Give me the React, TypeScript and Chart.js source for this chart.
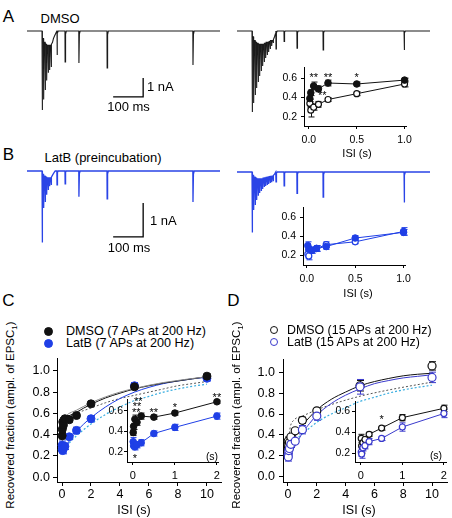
import React, { useEffect, useRef } from 'react';
import { Chart, registerables } from 'chart.js';
Chart.register(...registerables);

const FONT = '"Liberation Sans", Arial, Helvetica, sans-serif';
Chart.defaults.font.family = FONT;
Chart.defaults.color = '#000';

// ---------- colours ----------
const BLACK = '#111111';
const GRAY_FIT = '#8a8a8a';
const BLUE_C = '#1f3fe6';
const BLUE_D = '#3a3acc';
const BLUE_TRACE = '#2a44e6';
const CYAN = '#3aaee0';
const DOT_GRAY = '#555555';

// ---------- recovery data (ISI in s, recovered fraction) ----------
const ISI = [0.01, 0.02, 0.05, 0.1, 0.2, 0.5, 1, 2, 5, 10];
const DMSO_7AP = [0.39, 0.45, 0.52, 0.49, 0.55, 0.54, 0.58, 0.69, 0.85, 0.95];
const DMSO_7AP_ERR = [0.03, 0.03, 0.04, 0.03, 0.03, 0.02, 0.02, 0.015, 0.025, 0.02];
const LATB_7AP = [0.3, 0.26, 0.25, 0.27, 0.29, 0.38, 0.44, 0.55, 0.86, 0.93];
const LATB_7AP_ERR = [0.04, 0.03, 0.03, 0.03, 0.03, 0.025, 0.03, 0.03, 0.03, 0.025];
const DMSO_15AP = [0.34, 0.27, 0.3, 0.33, 0.38, 0.44, 0.54, 0.63, 0.87, 1.06];
const DMSO_15AP_ERR = [0.04, 0.07, 0.03, 0.03, 0.02, 0.02, 0.03, 0.03, 0.05, 0.04];
const LATB_15AP = [0.21, 0.19, 0.25, 0.27, 0.31, 0.34, 0.45, 0.58, 0.86, 0.95];
const LATB_15AP_ERR = [0.04, 0.04, 0.03, 0.03, 0.03, 0.02, 0.04, 0.04, 0.07, 0.05];

// ---------- fitted curves: [ISI (s), fraction] ----------
const FIT_C_DMSO = [[0, 0.5], [0.1, 0.54], [0.3, 0.565], [0.6, 0.585], [1, 0.61], [1.5, 0.65], [2, 0.685], [3, 0.745], [4, 0.79], [5, 0.83], [6, 0.86], [7, 0.885], [8, 0.905], [9, 0.925], [10, 0.945]];
const FIT_C_GRAY = [[0, 0.52], [0.3, 0.58], [1, 0.63], [2, 0.7], [3, 0.755], [4, 0.8], [5, 0.835], [7, 0.89], [10, 0.945]];
const FIT_C_LATB = [[0, 0.24], [0.3, 0.3], [0.6, 0.36], [1, 0.43], [1.5, 0.5], [2, 0.56], [3, 0.66], [4, 0.74], [5, 0.8], [6, 0.845], [7, 0.88], [8, 0.905], [9, 0.925], [10, 0.94]];
const FIT_C_GRAYDOT = [[0, 0.33], [0.2, 0.47], [0.5, 0.56], [1, 0.6], [2, 0.65], [3, 0.7], [4, 0.74], [5, 0.77], [6, 0.8], [7, 0.83], [8, 0.86], [9, 0.88], [10, 0.9]];
const FIT_C_CYANDOT = [[0, 0.23], [0.5, 0.32], [1, 0.39], [2, 0.5], [3, 0.59], [4, 0.66], [5, 0.72], [6, 0.76], [7, 0.8], [8, 0.83], [9, 0.855], [10, 0.875]];
const FIT_D_DMSO = [[0, 0.27], [0.3, 0.34], [0.6, 0.41], [1, 0.49], [1.5, 0.57], [2, 0.64], [3, 0.74], [4, 0.81], [5, 0.87], [6, 0.91], [7, 0.94], [8, 0.965], [9, 0.98], [10, 0.99]];
const FIT_D_LATB = [[0, 0.17], [0.3, 0.25], [0.6, 0.32], [1, 0.42], [1.5, 0.51], [2, 0.59], [3, 0.7], [4, 0.78], [5, 0.84], [6, 0.89], [7, 0.92], [8, 0.945], [9, 0.96], [10, 0.975]];
const FIT_D_GRAYDOT = [[0, 0.3], [0.15, 0.47], [0.4, 0.54], [1, 0.58], [2, 0.64], [3, 0.69], [5, 0.77], [7, 0.83], [10, 0.905]];
const FIT_D_CYANDOT = [[0.3, 0.33], [1, 0.41], [2, 0.52], [3, 0.6], [4, 0.66], [5, 0.72], [6, 0.76], [7, 0.8], [8, 0.83], [9, 0.855], [10, 0.875]];

// ---------- significance marks ----------
const STARS_A = [{ x: 0.05, y: 0.64, t: '**' }, { x: 0.2, y: 0.64, t: '**' }, { x: 0.5, y: 0.635, t: '*' }, { x: 0.14, y: 0.45, t: '**' }];
const STARS_C = [{ x: 0.13, y: 0.72, t: '**' }, { x: 0.1, y: 0.67, t: '**' }, { x: 0.08, y: 0.615, t: '**' }, { x: 0.5, y: 0.61, t: '**' }, { x: 1, y: 0.66, t: '*' }, { x: 2, y: 0.755, t: '**' }, { x: 0.05, y: 0.16, t: '*' }];
const STARS_D = [{ x: 0.5, y: 0.545, t: '*' }];

// ---------- EPSC traces (time ms, current nA) ----------
const TRACE_END_MS = 643;
const AP_INTERVAL_MS = 5;
const TRAIN_START_MS = 50;
const TEST_T_7AP = [100, 127, 173, 267, 553];
const TEST_T_15AP = [130, 157, 200, 287, 557];

const A7_TRAIN = [4.16, 3.6, 3.1, 2.6, 2.2, 2.05, 1.9];
const A7_RESID = [0, -0.4, -0.6, -0.7, -0.75, -0.75, -0.75, -0.7];
const A7_TAIL = [[3, -0.6], [6, -0.4], [10, -0.25], [14, -0.12], [18, 0]];
const A7_TEST = [1.26, 1.63, 1.68, 1.95, 1.79];

const A15_TRAIN = [4.26, 3.79, 3.37, 3.0, 2.68, 2.37, 2.1, 1.84, 1.63, 1.42, 1.26, 1.1, 0.95, 0.79, 0.63];
const A15_RESID = [0, -0.3, -0.5, -0.6, -0.65, -0.7, -0.7, -0.7, -0.7, -0.65, -0.6, -0.6, -0.55, -0.5, -0.5, -0.45];
const A15_TAIL = [[3, -0.3], [6, -0.15], [9, 0]];
const A15_TEST = [0.95, 0.55, 0.9, 1.0, 1.0];

const B7_TRAIN = [2.1, 1.09, 0.91, 0.7, 0.56, 0.45, 0.41];
const B7_RESID = [0, -0.1, -0.15, -0.18, -0.2, -0.2, -0.2, -0.18];
const B7_TAIL = [[3, -0.12], [8, -0.05], [12, 0]];
const B7_TEST = [0.41, 0.38, 0.76, 0.82, 0.91];

const B15_TRAIN = [1.78, 1.12, 0.97, 0.82, 0.7, 0.62, 0.56, 0.5, 0.44, 0.41, 0.38, 0.35, 0.32, 0.3, 0.27];
const B15_RESID = [0, -0.1, -0.15, -0.18, -0.2, -0.2, -0.2, -0.2, -0.18, -0.17, -0.16, -0.15, -0.14, -0.13, -0.12, -0.1];
const B15_TAIL = [[3, -0.06], [7, 0]];
const B15_TEST = [0.29, 0.41, 0.63, 0.74, 0.9];

// scale bars: 100 ms, 1 nA
const BAR_MS = 100;
const BAR_NA = 1;

// ---------- helpers ----------
type Pt = { x: number; y: number };
const toPts = (xs: number[], ys: number[], n: number): Pt[] => xs.slice(0, n).map((x, i) => ({ x, y: ys[i] }));
const pairPts = (arr: number[][]): Pt[] => arr.map(([x, y]) => ({ x, y }));

function buildTrace(amps: number[], resid: number[], tail: number[][], testT: number[], testA: number[]): Pt[] {
  const pts: Pt[] = [{ x: 0, y: 0 }, { x: TRAIN_START_MS - 1, y: 0 }];
  amps.forEach((a, i) => {
    const t = TRAIN_START_MS + i * AP_INTERVAL_MS;
    pts.push({ x: t, y: resid[i] });
    pts.push({ x: t + 0.5, y: -a });
    pts.push({ x: t + 2, y: resid[i + 1] });
  });
  const tEnd = TRAIN_START_MS + (amps.length - 1) * AP_INTERVAL_MS + 2;
  tail.forEach(([dt, v]) => pts.push({ x: tEnd + dt, y: v }));
  testT.forEach((t, i) => {
    pts.push({ x: t - 0.5, y: 0 });
    pts.push({ x: t, y: -testA[i] });
    pts.push({ x: t + 1.5, y: -testA[i] * 0.1 });
    pts.push({ x: t + 4, y: 0 });
  });
  pts.push({ x: TRACE_END_MS, y: 0 });
  return pts.sort((a, b) => a.x - b.x);
}

const errorBarPlugin = {
  id: 'errbars',
  beforeDatasetsDraw(chart: any) {
    const { ctx } = chart;
    const x = chart.scales.x, y = chart.scales.y;
    chart.data.datasets.forEach((ds: any) => {
      if (!ds.errs) return;
      const cap = ds.cap ?? 3;
      ctx.save();
      ctx.strokeStyle = ds.borderColor;
      ctx.lineWidth = ds.errWidth ?? 1;
      ds.data.forEach((p: Pt, i: number) => {
        const e = ds.errs[i];
        if (!e) return;
        const px = Math.round(x.getPixelForValue(p.x)) + 0.5;
        const y1 = y.getPixelForValue(p.y - e);
        const y2 = y.getPixelForValue(p.y + e);
        ctx.beginPath();
        ctx.moveTo(px, y1); ctx.lineTo(px, y2);
        ctx.moveTo(px - cap, y1); ctx.lineTo(px + cap, y1);
        ctx.moveTo(px - cap, y2); ctx.lineTo(px + cap, y2);
        ctx.stroke();
      });
      ctx.restore();
    });
  },
};

function makeStars(items: { x: number; y: number; t: string }[], size: number) {
  return {
    id: 'stars',
    afterDatasetsDraw(chart: any) {
      const { ctx } = chart;
      const x = chart.scales.x, y = chart.scales.y;
      ctx.save();
      ctx.fillStyle = '#000';
      ctx.font = `${size}px ${FONT}`;
      ctx.textAlign = 'center';
      ctx.textBaseline = 'alphabetic';
      items.forEach((it) => ctx.fillText(it.t, x.getPixelForValue(it.x), y.getPixelForValue(it.y) + size * 0.57));
      ctx.restore();
    },
  };
}

interface AxisSpec { min: number; max: number; ticks: number[]; fmt: (v: number) => string; font: number; tickLen: number; pad: number; size: number }

function axis(s: AxisSpec, position: 'left' | 'bottom') {
  return {
    type: 'linear',
    position,
    min: s.min,
    max: s.max,
    afterBuildTicks: (sc: any) => { sc.ticks = s.ticks.map((v) => ({ value: v })); },
    afterFit: (sc: any) => { if (position === 'left') sc.width = s.size; else sc.height = s.size; },
    ticks: { callback: (v: any) => s.fmt(Number(v)), font: { family: FONT, size: s.font }, color: '#000', padding: s.pad, maxRotation: 0, minRotation: 0, autoSkip: false },
    grid: { display: true, drawOnChartArea: false, drawTicks: true, tickLength: s.tickLen, color: '#000', lineWidth: 1 },
    border: { display: true, color: '#000', width: 1 },
  };
}

type Area = { l: number; t: number; r: number; b: number };
type Pad = { left: number; top: number; right: number; bottom: number };
type Box = { left: number; top: number; width: number; height: number };

function plotBox(a: Area, yw: number, xh: number, p: Pad): Box {
  return { left: a.l - yw - p.left, top: a.t - p.top, width: a.r - a.l + yw + p.left + p.right, height: a.b - a.t + xh + p.top + p.bottom };
}

function plotConfig(datasets: any[], xs: AxisSpec, ys: AxisSpec, pad: Pad, extraPlugins: any[] = []) {
  return {
    type: 'scatter',
    data: { datasets },
    options: {
      animation: false,
      responsive: false,
      maintainAspectRatio: false,
      events: [],
      layout: { padding: pad, autoPadding: false },
      plugins: { legend: { display: false }, tooltip: { enabled: false } },
      scales: { x: axis(xs, 'bottom'), y: axis(ys, 'left') },
    },
    plugins: [errorBarPlugin, ...extraPlugins],
  };
}

function traceConfig(datasets: any[], yMin: number, yMax: number) {
  return {
    type: 'scatter',
    data: { datasets },
    options: {
      animation: false,
      responsive: false,
      maintainAspectRatio: false,
      events: [],
      layout: { padding: 0, autoPadding: false },
      plugins: { legend: { display: false }, tooltip: { enabled: false } },
      scales: {
        x: { type: 'linear', display: false, min: 0, max: TRACE_END_MS },
        y: { type: 'linear', display: false, min: yMin, max: yMax },
      },
    },
  };
}

const lineDs = (data: Pt[], color: string, width = 1) => ({ data, showLine: true, borderColor: color, borderWidth: width, pointRadius: 0, tension: 0, clip: false });
const fitDs = (arr: number[][], color: string, dash: number[] = [], width = 1) => ({ data: pairPts(arr), showLine: true, borderColor: color, borderWidth: width, borderDash: dash, pointRadius: 0, cubicInterpolationMode: 'monotone', order: 5 });
const markDs = (data: Pt[], errs: number[], color: string, filled: boolean, r: number, cap: number, connect: boolean) => ({
  data, errs, cap, showLine: connect, borderColor: color, borderWidth: 1, tension: 0,
  pointRadius: r, pointBorderWidth: filled ? 1 : 1.2, pointBorderColor: color, pointBackgroundColor: filled ? color : '#ffffff', clip: false, order: 0,
});
const scaleBarDs = (t: number, v: number) => lineDs([{ x: t, y: v }, { x: t + BAR_MS, y: v }, { x: t + BAR_MS, y: v + BAR_NA }], '#000', 1.3);

// ---------- layout (page pixels) ----------
const f1 = (v: number) => v.toFixed(1);
const f0 = (v: number) => v.toFixed(0);

function ChartCanvas({ box, make }: { box: Box; make: () => any }) {
  const ref = useRef<HTMLCanvasElement>(null);
  useEffect(() => {
    const chart = new Chart(ref.current as HTMLCanvasElement, make());
    return () => chart.destroy();
  }, []);
  return <canvas ref={ref} width={box.width} height={box.height} style={{ position: 'absolute', left: box.left, top: box.top, width: box.width, height: box.height, display: 'block' }} />;
}

const traceBox = (l: number, t: number, r: number, b: number): Box => ({ left: l, top: t, width: r - l, height: b - t });

function Txt({ x, y, size, children, anchor = 'center', bold = false }: { x: number; y: number; size: number; children: any; anchor?: 'center' | 'left'; bold?: boolean }) {
  return (
    <div style={{ position: 'absolute', left: x, top: y, transform: anchor === 'center' ? 'translate(-50%,-50%)' : 'translate(0,-50%)', fontSize: size, lineHeight: 1, whiteSpace: 'nowrap', color: '#000', fontWeight: bold ? 'bold' : 'normal' }}>
      {children}
    </div>
  );
}

function Marker({ x, y, r, color, filled }: { x: number; y: number; r: number; color: string; filled: boolean }) {
  return <div style={{ position: 'absolute', left: x - r, top: y - r, width: 2 * r, height: 2 * r, borderRadius: '50%', boxSizing: 'border-box', background: filled ? color : '#fff', border: `1.3px solid ${color}` }} />;
}

export default function App() {
  // traces
  const AL = traceBox(27, 22, 220, 120);
  const AR = traceBox(237, 22, 430, 120);
  const BL = traceBox(27, 160, 220, 250);
  const BR = traceBox(237, 160, 430, 250);
  const A_Y = { min: -(120 - 31) / 19, max: (31 - 22) / 19 };
  const BL_Y = { min: -(250 - 171) / 34, max: (171 - 160) / 34 };
  const BR_Y = { min: -(250 - 172) / 34, max: (172 - 160) / 34 };

  // insets A / B
  const insA: Area = { l: 304, t: 61, r: 409, b: 126 };
  const insB: Area = { l: 303, t: 201, r: 408, b: 265 };
  const padAB: Pad = { left: 0, top: 4, right: 8, bottom: 0 };
  const mainC: Area = { l: 57, t: 352, r: 221, b: 482 };
  const mainD: Area = { l: 283, t: 352, r: 447, b: 482 };
  const padMain: Pad = { left: 0, top: 4, right: 4, bottom: 0 };
  const insC: Area = { l: 127, t: 399, r: 222, b: 462 };
  const insD: Area = { l: 355, t: 401, r: 449, b: 462 };
  const padIns: Pad = { left: 0, top: 16, right: 2, bottom: 0 };

  const xInsAB = (min: number): AxisSpec => ({ min, max: 1.02, ticks: [0, 0.5, 1], fmt: f1, font: 10.5, tickLen: 3, pad: 5, size: 22 });
  const yInsAB = (min: number, max: number): AxisSpec => ({ min, max, ticks: [0.2, 0.4, 0.6], fmt: f1, font: 10.5, tickLen: 3, pad: 4, size: 26 });
  const xMain = (min: number, max: number): AxisSpec => ({ min, max, ticks: [0, 2, 4, 6, 8, 10], fmt: f0, font: 12.5, tickLen: 4, pad: 1, size: 24 });
  const yMain = (min: number, max: number, pad: number): AxisSpec => ({ min, max, ticks: [0, 0.2, 0.4, 0.6, 0.8, 1.0], fmt: f1, font: 12.5, tickLen: 4, pad, size: 32 });
  const xIns = (min: number, max: number): AxisSpec => ({ min, max, ticks: [0, 1, 2], fmt: f0, font: 11, tickLen: 3, pad: 4, size: 20 });
  const yIns = (min: number, max: number, pad: number): AxisSpec => ({ min, max, ticks: [0.2, 0.4, 0.6], fmt: f1, font: 10.5, tickLen: 3, pad, size: 24 });

  return (
    <div style={{ position: 'absolute', left: 0, top: 0, width: 452, height: 518, overflow: 'hidden', background: '#fff', fontFamily: FONT }}>
      {/* Panel labels */}
      <Txt x={8.5} y={16} size={17}>A</Txt>
      <Txt x={60} y={18} size={13}>DMSO</Txt>
      <Txt x={8.5} y={154} size={17}>B</Txt>
      <Txt x={103} y={157} size={13}>LatB (preincubation)</Txt>
      <Txt x={8.5} y={300} size={17}>C</Txt>
      <Txt x={233.5} y={300} size={17}>D</Txt>

      {/* Traces */}
      <ChartCanvas box={AL} make={() => traceConfig([lineDs(buildTrace(A7_TRAIN, A7_RESID, A7_TAIL, TEST_T_7AP, A7_TEST), '#1a1a1a', 1.1), scaleBarDs(287, -3.47)], A_Y.min, A_Y.max)} />
      <ChartCanvas box={AR} make={() => traceConfig([lineDs(buildTrace(A15_TRAIN, A15_RESID, A15_TAIL, TEST_T_15AP, A15_TEST), '#1a1a1a', 1.1)], A_Y.min, A_Y.max)} />
      <ChartCanvas box={BL} make={() => traceConfig([lineDs(buildTrace(B7_TRAIN, B7_RESID, B7_TAIL, TEST_T_7AP, B7_TEST), BLUE_TRACE, 1.3), scaleBarDs(287, -1.94)], BL_Y.min, BL_Y.max)} />
      <ChartCanvas box={BR} make={() => traceConfig([lineDs(buildTrace(B15_TRAIN, B15_RESID, B15_TAIL, TEST_T_15AP, B15_TEST), BLUE_TRACE, 1.3)], BR_Y.min, BR_Y.max)} />
      <Txt x={147} y={86} size={13} anchor="left">1 nA</Txt>
      <Txt x={128.5} y={106} size={13}>100 ms</Txt>
      <Txt x={150} y={220} size={13} anchor="left">1 nA</Txt>
      <Txt x={129} y={247} size={13}>100 ms</Txt>

      {/* Inset A */}
      <ChartCanvas box={plotBox(insA, 26, 22, padAB)} make={() => plotConfig([
        markDs(toPts(ISI, DMSO_7AP, 7), DMSO_7AP_ERR, BLACK, true, 3.3, 3, true),
        markDs(toPts(ISI, DMSO_15AP, 7), DMSO_15AP_ERR, BLACK, false, 3, 3, true),
      ], xInsAB(-0.051), yInsAB(0.107, 0.712), padAB, [makeStars(STARS_A, 11)])} />
      <Txt x={357} y={153} size={11}>ISI (s)</Txt>

      {/* Inset B */}
      <ChartCanvas box={plotBox(insB, 26, 22, padAB)} make={() => plotConfig([
        markDs(toPts(ISI, LATB_7AP, 7), LATB_7AP_ERR, BLUE_C, true, 3.3, 3, true),
        markDs(toPts(ISI, LATB_15AP, 7), LATB_15AP_ERR, BLUE_C, false, 3, 3, true),
      ], xInsAB(-0.04), yInsAB(0.095, 0.705), padAB)} />
      <Txt x={358} y={293} size={11}>ISI (s)</Txt>

      {/* Panel C */}
      <Marker x={48} y={331} r={4.5} color={BLACK} filled />
      <Txt x={66} y={331} size={12.6} anchor="left">DMSO (7 APs at 200 Hz)</Txt>
      <Marker x={48} y={343} r={4.5} color={BLUE_C} filled />
      <Txt x={66} y={343} size={12.6} anchor="left">LatB (7 APs at 200 Hz)</Txt>
      <div style={{ position: 'absolute', left: 12, top: 415, transform: 'translate(-50%,-50%) rotate(-90deg)', fontSize: 11.5, lineHeight: 1, whiteSpace: 'nowrap' }}>
        Recovered fraction (ampl. of EPSC<sub style={{ fontSize: 8 }}>1</sub>)
      </div>
      <ChartCanvas box={plotBox(mainC, 32, 24, padMain)} make={() => plotConfig([
        markDs(toPts(ISI, DMSO_7AP, 10), DMSO_7AP_ERR, BLACK, true, 4, 3.5, false),
        markDs(toPts(ISI, LATB_7AP, 10), LATB_7AP_ERR, BLUE_C, true, 4, 3.5, false),
        fitDs(FIT_C_GRAY, GRAY_FIT),
        fitDs(FIT_C_DMSO, BLACK),
        fitDs(FIT_C_LATB, BLUE_C),
        fitDs(FIT_C_GRAYDOT, DOT_GRAY, [2, 2]),
        fitDs(FIT_C_CYANDOT, CYAN, [2, 2], 1.2),
      ], xMain(-0.345, 10.97), yMain(-0.045, 1.116, 3), padMain)} />
      <Txt x={134} y={510} size={12.5}>ISI (s)</Txt>
      <ChartCanvas box={plotBox(insC, 24, 20, padIns)} make={() => plotConfig([
        markDs(toPts(ISI, DMSO_7AP, 8), DMSO_7AP_ERR, BLACK, true, 3.3, 3, true),
        markDs(toPts(ISI, LATB_7AP, 8), LATB_7AP_ERR, BLUE_C, true, 3.3, 3, true),
      ], xIns(-0.138, 2.05), yIns(0.102, 0.717, 1), padIns, [makeStars(STARS_C, 11)])} />
      <Txt x={212} y={456} size={10.5}>(s)</Txt>

      {/* Panel D */}
      <Marker x={274} y={330} r={4} color={BLACK} filled={false} />
      <Txt x={287} y={330} size={12.4} anchor="left">DMSO (15 APs at 200 Hz)</Txt>
      <Marker x={274} y={342} r={4} color={BLUE_D} filled={false} />
      <Txt x={287} y={342} size={12.4} anchor="left">LatB (15 APs at 200 Hz)</Txt>
      <div style={{ position: 'absolute', left: 238, top: 415, transform: 'translate(-50%,-50%) rotate(-90deg)', fontSize: 11.5, lineHeight: 1, whiteSpace: 'nowrap' }}>
        Recovered fraction (ampl. of EPSC<sub style={{ fontSize: 8 }}>1</sub>)
      </div>
      <ChartCanvas box={plotBox(mainD, 32, 24, padMain)} make={() => plotConfig([
        markDs(toPts(ISI, LATB_15AP, 10), LATB_15AP_ERR, BLUE_D, false, 4, 3.5, false),
        markDs(toPts(ISI, DMSO_15AP, 10), DMSO_15AP_ERR, BLACK, false, 4, 3.5, false),
        fitDs(FIT_D_DMSO, BLACK),
        fitDs(FIT_D_LATB, BLUE_D),
        fitDs(FIT_D_GRAYDOT, DOT_GRAY, [2, 2]),
        fitDs(FIT_D_CYANDOT, CYAN, [2, 2], 1.2),
      ], xMain(-0.347, 11.04), yMain(-0.05, 1.121, 4), padMain)} />
      <Txt x={359} y={510} size={12.5}>ISI (s)</Txt>
      <ChartCanvas box={plotBox(insD, 24, 20, padIns)} make={() => plotConfig([
        markDs(toPts(ISI, LATB_15AP, 8), LATB_15AP_ERR, BLUE_D, false, 3, 3, true),
        markDs(toPts(ISI, DMSO_15AP, 8), DMSO_15AP_ERR, BLACK, false, 3, 3, true),
      ], xIns(-0.14, 2.06), yIns(0.114, 0.7, 2), padIns, [makeStars(STARS_D, 11)])} />
      <Txt x={436} y={455} size={10.5}>(s)</Txt>
    </div>
  );
}
